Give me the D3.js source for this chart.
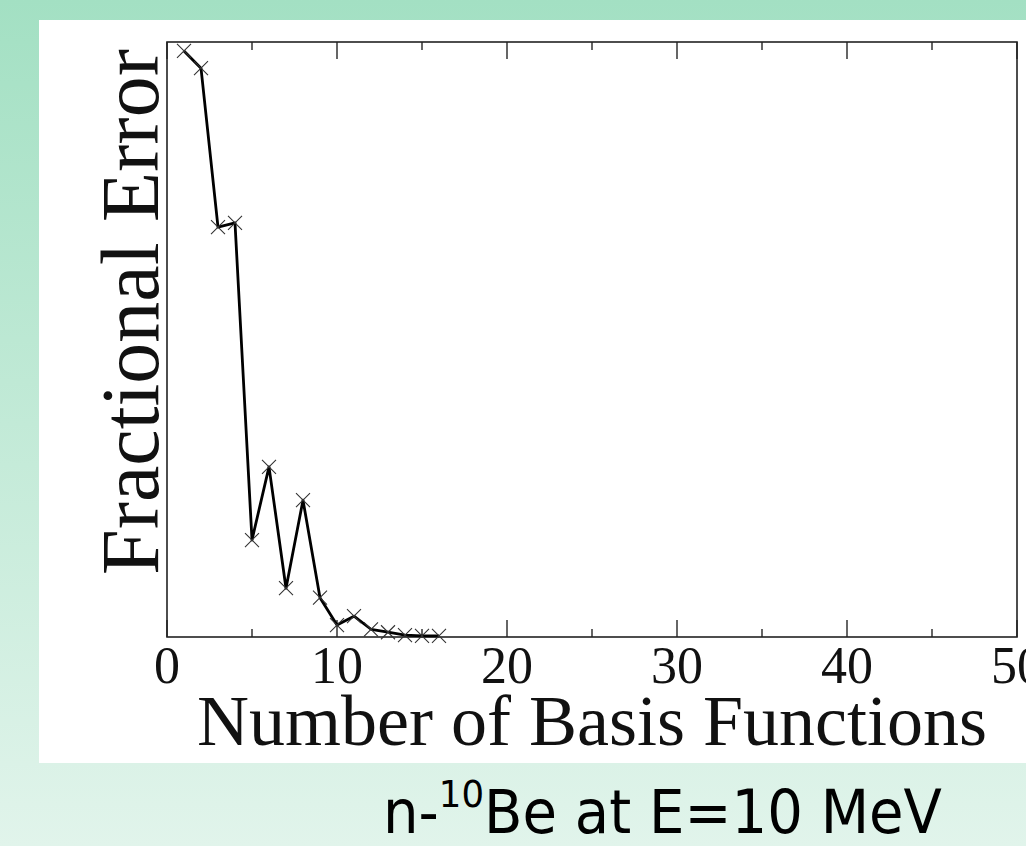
<!DOCTYPE html>
<html>
<head>
<meta charset="utf-8">
<script src="https://cdn.jsdelivr.net/npm/d3@7"></script>
<style>
  html, body { margin: 0; padding: 0; overflow: hidden; }
  svg { display: block; }
</style>
</head>
<body>
<svg id="chart" width="1026" height="846"></svg>
<script>
// data
const basisCount = [1, 2, 3, 4, 5, 6, 7, 8, 9, 10, 11, 12, 13, 14, 15, 16];
const fracError = [0.985, 0.956, 0.689, 0.696, 0.163, 0.286, 0.082, 0.230, 0.066, 0.020, 0.035, 0.013, 0.008, 0.003, 0.002, 0.002];
const xMajorTicks = [0, 10, 20, 30, 40, 50];
const xMinorTicks = [5, 15, 25, 35, 45];

const svg = d3.select('#chart');

// slide background
const defs = svg.append('defs');
const grad = defs.append('linearGradient')
    .attr('id', 'bg')
    .attr('x1', 0).attr('y1', 0).attr('x2', 0).attr('y2', 1);
grad.append('stop').attr('offset', '0%').attr('stop-color', '#a3e0c3');
grad.append('stop').attr('offset', '100%').attr('stop-color', '#e1f4eb');
svg.append('rect').attr('width', 1026).attr('height', 846).attr('fill', 'url(#bg)');

// white picture panel
svg.append('rect')
    .attr('x', 39).attr('y', 20)
    .attr('width', 1026 - 39).attr('height', 763 - 20)
    .attr('fill', '#ffffff');

const plotLeft = 167, plotRight = 1017, plotTop = 42, plotBottom = 637;

const x = d3.scaleLinear().domain([0, 50]).range([plotLeft, plotRight]);
const y = d3.scaleLinear().domain([0, 1]).range([plotBottom, plotTop]);

// ticks, bottom and top, pointing inward
const tickG = svg.append('g').attr('stroke', '#333').attr('stroke-width', 1.5);
[[xMajorTicks, 17], [xMinorTicks, 8]].forEach(([ticks, len]) => {
    tickG.selectAll(null)
        .data(ticks)
        .enter()
        .append('line')
        .attr('x1', d => x(d)).attr('x2', d => x(d))
        .attr('y1', plotBottom).attr('y2', plotBottom - len);
    tickG.selectAll(null)
        .data(ticks)
        .enter()
        .append('line')
        .attr('x1', d => x(d)).attr('x2', d => x(d))
        .attr('y1', plotTop).attr('y2', plotTop + len);
});

// frame
svg.append('rect')
    .attr('x', plotLeft).attr('y', plotTop)
    .attr('width', plotRight - plotLeft).attr('height', plotBottom - plotTop)
    .attr('fill', 'none')
    .attr('stroke', '#222')
    .attr('stroke-width', 1.6);

// line
const points = basisCount.map((n, i) => [n, fracError[i]]);
svg.append('path')
    .datum(points)
    .attr('fill', 'none')
    .attr('stroke', '#000')
    .attr('stroke-width', 2.8)
    .attr('stroke-linejoin', 'round')
    .attr('d', d3.line().x(d => x(d[0])).y(d => y(d[1])));

// x markers
const s = 7;
svg.append('g')
    .selectAll('path')
    .data(points)
    .enter()
    .append('path')
    .attr('d', d => {
        const px = x(d[0]), py = y(d[1]);
        return `M${px - s},${py - s}L${px + s},${py + s}M${px - s},${py + s}L${px + s},${py - s}`;
    })
    .attr('stroke', '#333')
    .attr('stroke-width', 1.1)
    .attr('fill', 'none');

// tick labels
svg.append('g')
    .selectAll('text')
    .data(xMajorTicks)
    .enter()
    .append('text')
    .attr('x', d => x(d))
    .attr('y', 683)
    .attr('text-anchor', 'middle')
    .style('font-family', '"Liberation Serif", "DejaVu Serif", serif')
    .style('font-size', '52px')
    .attr('fill', '#111')
    .text(d => d);

// axis titles
svg.append('text')
    .attr('x', (plotLeft + plotRight) / 2)
    .attr('y', 745)
    .attr('text-anchor', 'middle')
    .style('font-family', '"Liberation Serif", "DejaVu Serif", serif')
    .style('font-size', '72px')
    .attr('fill', '#111')
    .text('Number of Basis Functions');

svg.append('text')
    .attr('transform', 'translate(158,312) rotate(-90)')
    .attr('text-anchor', 'middle')
    .style('font-family', '"Liberation Serif", "DejaVu Serif", serif')
    .style('font-size', '82px')
    .attr('fill', '#111')
    .text('Fractional Error');

// caption below the picture
const cap = svg.append('text')
    .attr('x', 383)
    .attr('y', 833)
    .attr('textLength', 559)
    .attr('lengthAdjust', 'spacingAndGlyphs')
    .style('font-family', '"DejaVu Sans", Verdana, sans-serif')
    .style('font-size', '60px')
    .attr('fill', '#000');
cap.append('tspan').text('n-');
cap.append('tspan').attr('dy', -26).style('font-size', '38px').text('10');
cap.append('tspan').attr('dy', 26).text('Be at E=10 MeV');
</script>
</body>
</html>
